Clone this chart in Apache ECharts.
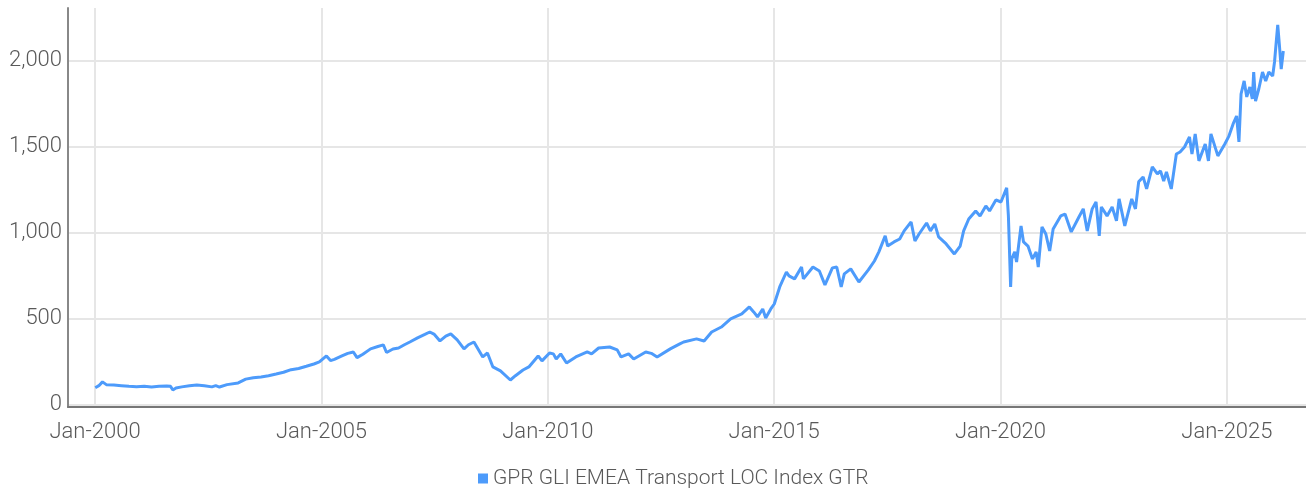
<!DOCTYPE html>
<html>
<head>
<meta charset="utf-8">
<script src="https://cdn.jsdelivr.net/npm/echarts@6/dist/echarts.min.js"></script>
<style>
html,body{margin:0;padding:0;background:#fff;}
#chart{width:1306px;height:493px;}
</style>
</head>
<body>
<div id="chart"></div>
<script>
const seriesName = 'GPR GLI EMEA Transport LOC Index GTR';
const dates = [
'2000-01-03','2000-02-01','2000-03-01','2000-04-01','2000-06-01','2000-08-01','2000-10-01','2000-12-01',
'2001-02-01','2001-04-01','2001-06-01','2001-08-01','2001-09-01','2001-09-20','2001-10-15','2001-12-01',
'2002-02-01','2002-04-01','2002-06-01','2002-08-01','2002-09-01','2002-10-01','2002-12-01',
'2003-03-01','2003-05-01','2003-07-01','2003-09-01','2003-11-01',
'2004-01-01','2004-03-01','2004-05-01','2004-07-01','2004-09-01','2004-11-01','2004-12-15',
'2005-02-10','2005-03-15','2005-04-15','2005-06-15','2005-08-01','2005-09-15','2005-10-15','2005-12-01',
'2006-02-01','2006-04-01','2006-05-15','2006-06-10','2006-08-01','2006-09-15','2006-11-01','2006-12-15',
'2007-02-15','2007-04-15','2007-05-25','2007-07-01','2007-08-15','2007-10-01','2007-11-10',
'2008-01-01','2008-02-25','2008-04-01','2008-05-15','2008-07-25','2008-09-01','2008-10-15','2008-12-15',
'2009-03-05','2009-04-15','2009-06-15','2009-08-01','2009-10-15','2009-11-15',
'2010-01-15','2010-02-15','2010-03-10','2010-04-15','2010-06-01','2010-08-15','2010-11-15','2010-12-20',
'2011-02-15','2011-05-15','2011-07-15','2011-08-15','2011-10-15','2011-11-25',
'2012-03-01','2012-04-15','2012-06-01','2012-09-15','2012-12-01',
'2013-01-01','2013-04-15','2013-06-15','2013-08-15','2013-11-01',
'2014-01-15','2014-04-15','2014-06-15','2014-07-20','2014-08-20','2014-10-01','2014-10-25','2014-12-05',
'2015-01-02','2015-02-15','2015-04-10','2015-05-01','2015-06-15','2015-08-10','2015-08-25','2015-11-10',
'2016-01-01','2016-02-15','2016-04-15','2016-05-20','2016-06-25','2016-07-20','2016-09-10','2016-11-15',
'2017-01-30','2017-03-20','2017-04-25','2017-06-15','2017-07-05','2017-08-25','2017-10-10','2017-11-15',
'2018-01-10','2018-02-10','2018-03-15','2018-05-15','2018-06-15','2018-07-20','2018-08-20','2018-10-20','2018-12-25',
'2019-02-10','2019-03-10','2019-04-20','2019-06-15','2019-07-20','2019-09-05','2019-10-05','2019-11-25',
'2020-01-05','2020-02-20','2020-03-05','2020-03-23','2020-04-01','2020-04-25','2020-05-10','2020-06-15',
'2020-07-05','2020-08-10','2020-09-15','2020-10-15','2020-11-01','2020-12-01',
'2021-01-01','2021-02-01','2021-03-01','2021-05-01','2021-06-05','2021-07-25','2021-09-25','2021-10-30','2021-12-01',
'2022-01-10','2022-02-10','2022-03-08','2022-03-25','2022-05-10','2022-06-20','2022-07-25','2022-08-15',
'2022-09-30','2022-11-25','2022-12-25',
'2023-01-20','2023-02-25','2023-03-25','2023-05-10','2023-06-20','2023-07-15','2023-08-10','2023-09-01',
'2023-10-10','2023-11-20','2023-12-20',
'2024-01-25','2024-03-05','2024-03-25','2024-04-20','2024-05-20','2024-07-10','2024-08-05','2024-08-25',
'2024-10-20','2024-12-15',
'2025-01-15','2025-02-20','2025-03-20','2025-04-08','2025-04-25','2025-05-20','2025-06-10','2025-07-05',
'2025-07-25','2025-08-05','2025-08-20','2025-09-15','2025-10-15','2025-11-10','2025-12-05',
'2026-01-05','2026-01-20','2026-02-05','2026-02-15','2026-03-01','2026-03-15','2026-04-01'
];
const values = [
100,112,134,118,116,112,108,106,
108,104,108,110,108,87,98,105,
112,116,112,105,112,104,118,
128,150,158,163,170,
180,190,205,212,225,238,250,
285,258,265,285,300,308,275,295,
326,340,349,305,325,331,350,366,
390,410,424,410,372,400,413,
378,326,350,366,279,302,221,198,
145,170,203,221,285,256,
302,297,267,297,244,279,308,297,
331,337,320,279,297,267,
308,300,279,326,355,
366,384,372,424,453,
500,529,570,541,512,558,506,558,
587,686,773,750,733,802,733,802,
779,698,797,802,686,762,791,715,
785,837,890,983,924,948,965,1012,
1064,953,994,1058,1012,1052,977,936,878,
924,1012,1081,1128,1099,1157,1128,1192,
1180,1262,1099,686,849,890,831,1041,
948,924,849,890,802,1035,
994,895,1023,1099,1110,1006,1093,1140,1012,
1140,1180,983,1151,1099,1151,1070,1198,
1041,1198,1140,
1297,1326,1256,1384,1343,1361,1302,1355,
1256,1459,1471,
1500,1558,1459,1576,1419,1517,1419,1576,
1448,1517,
1560,1634,1680,1529,1808,1884,1791,1849,
1779,1936,1767,1837,1936,1884,1936,
1913,1994,2128,2210,2087,1953,2058
];
const xTickYears = [2000, 2005, 2010, 2015, 2020, 2025];
const yTickValues = [0, 500, 1000, 1500, 2000];

function utc(s){ const p = s.split('-').map(Number); return Date.UTC(p[0], p[1]-1, p[2]); }
const data = dates.map((d,i)=>[utc(d), values[i]]);
const xTicks = xTickYears.map(y=>Date.UTC(y,0,1));

const FONT = 'Roboto';
const chart = echarts.init(document.getElementById('chart'));
chart.setOption({
  animation: false,
  grid: {left: 68, right: 0, top: 8, bottom: 86},
  legend: {
    bottom: -1, left: 473,
    icon: 'rect', itemWidth: 10, itemHeight: 10, itemGap: 10,
    textStyle: {fontFamily: FONT, fontWeight: 300, fontSize: 21, color: '#595959'},
    data: [seriesName]
  },
  xAxis: {
    type: 'value',
    min: Date.UTC(1999,4,28),
    max: Date.UTC(2026,9,1),
    axisLine: {onZero: false, lineStyle: {color: '#777', width: 2}},
    axisTick: {show: false, customValues: xTicks},
    axisLabel: {
      customValues: xTicks,
      fontFamily: FONT, fontWeight: 300, fontSize: 22, color: '#595959', margin: 14,
      formatter: v => 'Jan-' + new Date(v).getUTCFullYear()
    },
    splitLine: {show: true, lineStyle: {color: '#e6e6e6', width: 2}}
  },
  yAxis: {
    type: 'value',
    min: -12, max: 2308,
    axisLine: {show: true, lineStyle: {color: '#888', width: 2}},
    axisTick: {show: false, customValues: yTickValues},
    axisLabel: {
      customValues: yTickValues,
      fontFamily: FONT, fontWeight: 300, fontSize: 22, color: '#595959', margin: 6,
      formatter: v => v.toLocaleString('en-US')
    },
    splitLine: {show: true, lineStyle: {color: '#e6e6e6', width: 2}}
  },
  series: [{
    name: seriesName,
    type: 'line',
    data: data,
    showSymbol: false,
    symbol: 'none',
    lineStyle: {color: '#4d9bfb', width: 3},
    itemStyle: {color: '#4d9bfb'}
  }]
});
</script>
</body>
</html>
